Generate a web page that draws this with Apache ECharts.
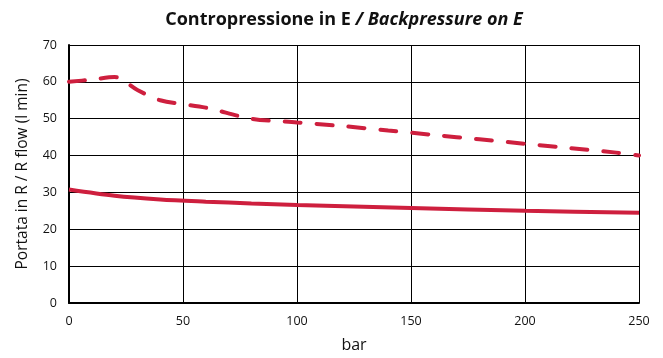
<!DOCTYPE html>
<html><head><meta charset="utf-8">
<script src="https://cdn.jsdelivr.net/npm/echarts@6/dist/echarts.min.js"></script>
<style>html,body{margin:0;padding:0;background:#fff}#c{width:663px;height:358px}</style>
</head><body><div id="c"></div>
<script>
const xTicks = [0, 50, 100, 150, 200, 250];
const yTicks = [0, 10, 20, 30, 40, 50, 60, 70];
const dashedX = [0, 10, 20, 30, 40, 60, 80, 100, 120, 140, 160, 180, 200, 220, 240, 250];
const dashedY = [60, 60.6, 61.3, 57.8, 55, 53, 50, 49, 48, 46.8, 45.6, 44.4, 43.2, 42, 40.8, 40];
const solidX = [0, 20, 40, 60, 80, 100, 150, 200, 250];
const solidY = [30.8, 29.1, 28.1, 27.5, 27, 26.6, 25.8, 25, 24.5];

const chart = echarts.init(document.getElementById('c'));
const col = '#CE1F3E';
chart.setOption({
  animation: false,
  title: {
    text: '{a|Contropressione in E }{b|/ Backpressure on E}',
    left: 339, top: 6, textAlign: 'center',
    textStyle: { rich: {
      a: { fontFamily: 'Open Sans', fontWeight: 'bold', fontSize: 18, color: '#111' },
      b: { fontFamily: 'Open Sans', fontWeight: 'bold', fontStyle: 'italic', fontSize: 18, color: '#111' }
    } }
  },
  grid: { left: 69, right: 24, top: 45, bottom: 54 },
  xAxis: {
    type: 'value', min: 0, max: 250, interval: 50,
    name: 'bar', nameLocation: 'middle', nameGap: 34,
    nameTextStyle: { fontFamily: 'Open Sans', fontSize: 16, color: '#111' },
    axisLine: { lineStyle: { color: '#000', width: 2 } },
    axisTick: { show: false },
    axisLabel: { fontFamily: 'Open Sans', fontSize: 12.5, color: '#111', margin: 12 },
    splitLine: { lineStyle: { color: '#000', width: 1 } }
  },
  yAxis: {
    type: 'value', min: 0, max: 70, interval: 10,
    name: 'Portata in R / R flow (l min)', nameLocation: 'middle', nameGap: 38,
    nameTextStyle: { fontFamily: 'Open Sans', fontSize: 15.5, color: '#111' },
    axisLine: { show: true, lineStyle: { color: '#000', width: 2 } },
    axisTick: { show: false },
    axisLabel: { fontFamily: 'Open Sans', fontSize: 12.5, color: '#111', margin: 12 },
    splitLine: { lineStyle: { color: '#000', width: 1 } }
  },
  series: [
    {
      type: 'line', data: dashedX.map((x, i) => [x, dashedY[i]]),
      smooth: 0.3, showSymbol: false,
      lineStyle: { color: col, width: 4, type: [16, 16], cap: 'round' }
    },
    {
      type: 'line', data: solidX.map((x, i) => [x, solidY[i]]),
      smooth: 0.3, showSymbol: false,
      lineStyle: { color: col, width: 4 }
    }
  ]
});
</script></body></html>
